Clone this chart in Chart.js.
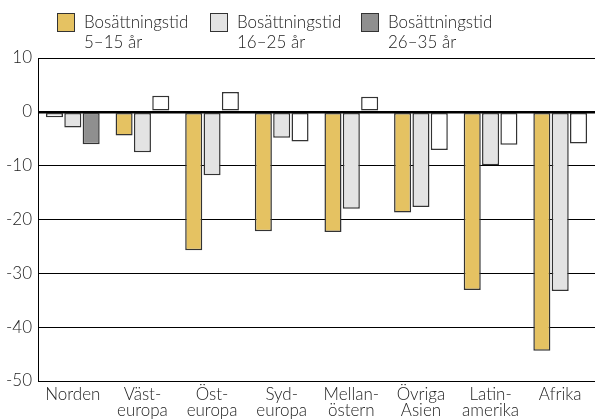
<!DOCTYPE html>
<html>
<head>
<meta charset="utf-8">
<script src="https://cdn.jsdelivr.net/npm/chart.js@4/dist/chart.umd.min.js"></script>
<style>
  html,body{margin:0;padding:0;background:#fff;}
  #wrap{position:relative;width:595px;height:419px;}
  canvas{position:absolute;left:0;top:0;}
  .lg{position:absolute;font-family:Lato,"Open Sans",sans-serif;font-weight:300;font-size:17px;line-height:20px;color:#222;}
  .sw{position:absolute;width:18px;height:19px;border:1.5px solid #333;box-sizing:border-box;}
</style>
</head>
<body>
<div id="wrap">
  <canvas id="c" width="595" height="419"></canvas>
  <div class="sw" style="left:57px;top:13px;background:#E5C262"></div>
  <div class="lg" style="left:84px;top:12px">Bosättningstid<br>5–15 år</div>
  <div class="sw" style="left:210px;top:13px;background:#E3E3E3"></div>
  <div class="lg" style="left:237px;top:12px">Bosättningstid<br>16–25 år</div>
  <div class="sw" style="left:361px;top:13px;background:#8F8F8F"></div>
  <div class="lg" style="left:388px;top:12px">Bosättningstid<br>26–35 år</div>
</div>
<script>
const categories = [["Norden"],["Väst-","europa"],["Öst-","europa"],["Syd-","europa"],["Mellan-","östern"],["Övriga","Asien"],["Latin-","amerika"],["Afrika"]];
const seriesNames = ["Bosättningstid 5–15 år","Bosättningstid 16–25 år","Bosättningstid 26–35 år"];
const years5to15 = [-1.0, -4.4, -25.7, -22.2, -22.3, -18.7, -33.1, -44.4];
const years16to25 = [-2.9, -7.5, -11.8, -4.8, -18.0, -17.7, -9.9, -33.3];
const years26to35 = [-6.0, 3.0, 3.7, -5.5, 2.8, -7.1, -6.1, -5.9];
const yTicks = [10, 0, -10, -20, -30, -40, -50];

const YELLOW = "#E5C262", LGRAY = "#E3E3E3", DGRAY = "#8F8F8F", EDGE = "#333333";
const yellowColors = years5to15.map((v,i)=> i===0 ? "#FFFFFF" : YELLOW);
const darkColors = years26to35.map((v,i)=> i===0 ? DGRAY : "#FFFFFF");
const yFont = {family: "Lato, 'Open Sans', sans-serif", size: 17, weight: 300};
const xFont = {family: "Lato, 'Open Sans', sans-serif", size: 17, weight: 300, lineHeight: 0.95};

new Chart(document.getElementById("c"), {
  type: "bar",
  data: {
    labels: categories,
    datasets: [
      {label: seriesNames[0], data: years5to15, backgroundColor: yellowColors, borderColor: EDGE, borderWidth: 1.5, borderSkipped: false},
      {label: seriesNames[1], data: years16to25, backgroundColor: LGRAY, borderColor: EDGE, borderWidth: 1.5, borderSkipped: false},
      {label: seriesNames[2], data: years26to35, backgroundColor: darkColors, borderColor: EDGE, borderWidth: 1.5, borderSkipped: false}
    ]
  },
  options: {
    responsive: false,
    animation: false,
    devicePixelRatio: 1,
    layout: {padding: {top: 58, right: 0, bottom: 0, left: 0}},
    plugins: {legend: {display: false}, tooltip: {enabled: false}},
    datasets: {bar: {categoryPercentage: 0.79, barPercentage: 0.93}},
    scales: {
      x: {
        grid: {display: false},
        border: {display: false},
        ticks: {color: "#222", font: xFont, maxRotation: 0, autoSkip: false, padding: -3},
        afterFit: s => { s.height = 38; }
      },
      y: {
        min: -50, max: 10,
        afterBuildTicks: s => { s.ticks = yTicks.map(v => ({value: v})); },
        grid: {
          color: "#000",
          lineWidth: ctx => ctx.tick && ctx.tick.value === 0 ? 2.5 : 1,
          drawTicks: false
        },
        border: {display: true, color: "#000", width: 1},
        ticks: {color: "#222", font: yFont, padding: 6},
        afterFit: s => { s.width = 38; }
      }
    }
  }
});
</script>
</body>
</html>
